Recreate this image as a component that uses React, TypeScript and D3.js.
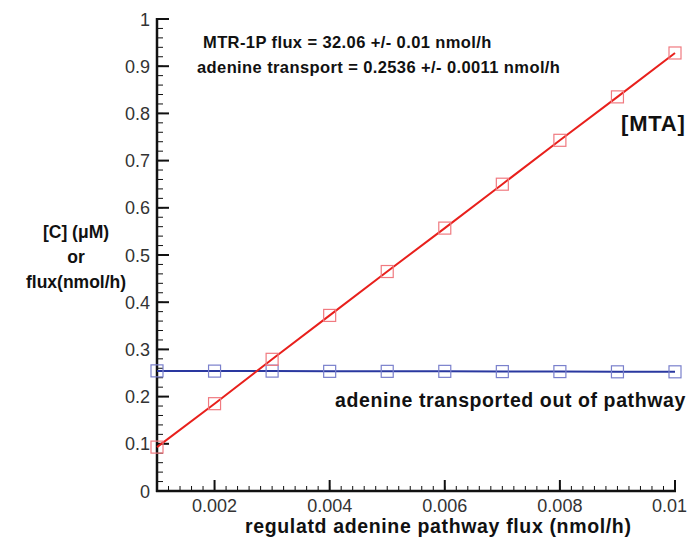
import React, { useEffect, useRef } from 'react';
import * as d3 from 'd3';

// regulated adenine pathway flux vs [MTA] and adenine transport

const fluxX = [0.001, 0.002, 0.003, 0.004, 0.005, 0.006, 0.007, 0.008, 0.009, 0.01];
const mtaConc = [0.093, 0.185, 0.279, 0.372, 0.465, 0.557, 0.65, 0.743, 0.835, 0.928];
const adenineOut = [0.2545, 0.254, 0.254, 0.2535, 0.2535, 0.2535, 0.253, 0.253, 0.2525, 0.2525];
const xTicks = [0.002, 0.004, 0.006, 0.008, 0.01];
const yTicks = [0, 0.1, 0.2, 0.3, 0.4, 0.5, 0.6, 0.7, 0.8, 0.9, 1];
const yLabelLines = ['[C] (\u03BCM)', 'or', 'flux(nmol/h)'];

const W = 691;
const H = 541;
const font = '"Liberation Sans", Arial, Helvetica, sans-serif';

export default function App() {
  const ref = useRef<SVGSVGElement>(null);

  useEffect(() => {
    const svg = d3.select(ref.current);
    svg.selectAll('*').remove();

    const left = 157, right = 675, top = 19, bottom = 491;
    const x = d3.scaleLinear().domain([0.001, 0.01]).range([left, right]);
    const y = d3.scaleLinear().domain([0, 1]).range([bottom, top]);

    const axis = svg.append('g').attr('stroke', '#111');

    // minor ticks
    const xMinor = d3.range(0.001, 0.01 + 1e-9, 0.0002);
    axis.selectAll('.xm').data(xMinor).enter().append('line')
      .attr('x1', (d) => x(d)).attr('x2', (d) => x(d))
      .attr('y1', bottom).attr('y2', bottom - 5).attr('stroke-width', 1);
    const yMinor = d3.range(0, 1 + 1e-9, 0.02);
    axis.selectAll('.ym').data(yMinor).enter().append('line')
      .attr('x1', left).attr('x2', left + 6)
      .attr('y1', (d) => y(d)).attr('y2', (d) => y(d)).attr('stroke-width', 1);

    // major ticks
    axis.selectAll('.xM').data(xTicks).enter().append('line')
      .attr('x1', (d) => x(d)).attr('x2', (d) => x(d))
      .attr('y1', bottom).attr('y2', bottom - 11).attr('stroke-width', 2);
    axis.selectAll('.yM').data(yTicks).enter().append('line')
      .attr('x1', left).attr('x2', left + 12)
      .attr('y1', (d) => y(d)).attr('y2', (d) => y(d)).attr('stroke-width', 2);

    // axis lines
    axis.append('line').attr('x1', left).attr('x2', left)
      .attr('y1', top - 1).attr('y2', bottom + 1).attr('stroke-width', 2.5);
    axis.append('line').attr('x1', left - 1).attr('x2', right + 1)
      .attr('y1', bottom).attr('y2', bottom).attr('stroke-width', 2.5);

    // tick labels (last one kept inside the frame)
    svg.selectAll('.xl').data(xTicks).enter().append('text')
      .attr('x', (d, i) => (i === xTicks.length - 1 ? 687 : x(d))).attr('y', bottom + 21)
      .attr('text-anchor', (d, i) => (i === xTicks.length - 1 ? 'end' : 'middle'))
      .attr('font-size', 18).attr('fill', '#333')
      .attr('font-family', font)
      .text((d) => d3.format('~g')(d));
    svg.selectAll('.yl').data(yTicks).enter().append('text')
      .attr('x', left - 7).attr('y', (d) => y(d) + 6.5)
      .attr('text-anchor', 'end').attr('font-size', 18).attr('fill', '#333')
      .attr('font-family', font)
      .text((d) => d3.format('~g')(d));

    // lines
    const line = d3.line<number>().x((d, i) => x(fluxX[i])).y((d) => y(d));
    svg.append('path').datum(adenineOut).attr('d', line)
      .attr('fill', 'none').attr('stroke', '#2a38a0').attr('stroke-width', 2);
    svg.append('path').datum(mtaConc).attr('d', line)
      .attr('fill', 'none').attr('stroke', '#e8201c').attr('stroke-width', 2);

    // markers
    const s = 12;
    svg.selectAll('.bm').data(adenineOut).enter().append('rect')
      .attr('x', (d, i) => x(fluxX[i]) - s / 2).attr('y', (d) => y(d) - s / 2)
      .attr('width', s).attr('height', s)
      .attr('fill', 'none').attr('stroke', '#7a80cc').attr('stroke-width', 1.2);
    svg.selectAll('.rm').data(mtaConc).enter().append('rect')
      .attr('x', (d, i) => x(fluxX[i]) - s / 2).attr('y', (d) => y(d) - s / 2)
      .attr('width', s).attr('height', s)
      .attr('fill', 'none').attr('stroke', '#f07a80').attr('stroke-width', 1.2);

    // annotations
    const txt = (tx: number, ty: number, str: string, size: number, ls: number, anchor = 'start') =>
      svg.append('text').attr('x', tx).attr('y', ty).attr('font-size', size)
        .attr('font-weight', 'bold').attr('font-family', font).attr('fill', '#111')
        .attr('letter-spacing', ls).attr('text-anchor', anchor).text(str);

    txt(203, 48, 'MTR-1P flux = 32.06 +/- 0.01 nmol/h', 16.5, 0.4);
    txt(197, 73, 'adenine transport = 0.2536 +/- 0.0011 nmol/h', 16.5, 0.4);
    txt(621, 131, '[MTA]', 22, 0.8);
    txt(335, 407, 'adenine transported out of pathway', 19.5, 0.6);
    txt(245, 533, 'regulatd adenine pathway flux (nmol/h)', 19.5, 0.65);
    yLabelLines.forEach((l, i) => txt(76, 238 + i * 25, l, 17.5, 0, 'middle'));
  }, []);

  return (
    <svg ref={ref} width={W} height={H}
      style={{ position: 'absolute', left: 0, top: 0, display: 'block' }} />
  );
}
